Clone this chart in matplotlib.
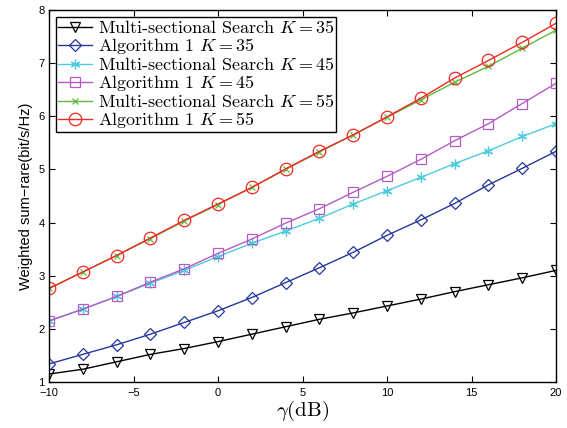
import matplotlib
matplotlib.use("Agg")
import matplotlib.pyplot as plt
import numpy as np

gamma = [-10, -8, -6, -4, -2, 0, 2, 4, 6, 8, 10, 12, 14, 16, 18, 20]
ms_k35 = [1.15, 1.24, 1.38, 1.52, 1.63, 1.76, 1.90, 2.04, 2.18, 2.30, 2.43, 2.56, 2.70, 2.83, 2.96, 3.10]
alg_k35 = [1.34, 1.52, 1.70, 1.90, 2.12, 2.34, 2.59, 2.87, 3.15, 3.44, 3.76, 4.05, 4.36, 4.71, 5.02, 5.34]
ms_k45 = [2.15, 2.37, 2.61, 2.86, 3.10, 3.36, 3.61, 3.84, 4.08, 4.35, 4.60, 4.85, 5.11, 5.35, 5.62, 5.86]
alg_k45 = [2.15, 2.37, 2.61, 2.88, 3.13, 3.42, 3.69, 3.99, 4.26, 4.57, 4.87, 5.19, 5.54, 5.86, 6.24, 6.62]
ms_k55 = [2.76, 3.07, 3.38, 3.70, 4.03, 4.34, 4.66, 5.00, 5.33, 5.65, 5.98, 6.31, 6.64, 6.94, 7.28, 7.62]
alg_k55 = [2.76, 3.07, 3.38, 3.71, 4.04, 4.35, 4.66, 5.01, 5.34, 5.65, 5.99, 6.34, 6.72, 7.05, 7.39, 7.75]

labels = [r"Multi-sectional Search $K=35$", r"Algorithm 1 $K=35$",
          r"Multi-sectional Search $K=45$", r"Algorithm 1 $K=45$",
          r"Multi-sectional Search $K=55$", r"Algorithm 1 $K=55$"]

plt.rcParams['mathtext.fontset'] = 'cm'
plt.rcParams['axes.unicode_minus'] = True

fig = plt.figure(figsize=(5.67, 4.28), dpi=100)
ax = fig.add_axes([49/567, 1-382/428, (556-49)/567, (382-10)/428])

series = [
    (ms_k35, 'black', 'v', 7, 1.0),
    (alg_k35, '#25389a', 'D', 6.5, 1.0),
    (ms_k45, '#4ccbdc', (6, 2, 0), 7, 1.0),
    (alg_k45, '#b45cc4', 's', 7, 1.0),
    (ms_k55, '#5cbc3c', 'x', 4, 1.0),
    (alg_k55, '#ee2a24', 'o', 9, 1.0),
]
for (vals, c, m, ms, lw), lab in zip(series, labels):
    ax.plot(gamma, vals, color=c, marker=m, markersize=ms, markerfacecolor='none',
            markeredgecolor=c, markeredgewidth=0.9, linewidth=lw, label=lab)

ax.set_xlim(-10, 20)
ax.set_ylim(1, 8)
ax.set_xticks([-10, -5, 0, 5, 10, 15, 20])
ax.set_yticks([1, 2, 3, 4, 5, 6, 7, 8])
ax.tick_params(direction='in', top=True, right=True, labelsize=8, length=4, width=0.8)
ax.tick_params(axis='x', pad=4)
ax.tick_params(axis='y', pad=3)
for lab in ax.get_xticklabels() + ax.get_yticklabels():
    lab.set_family('Liberation Sans')
for s in ax.spines.values():
    s.set_linewidth(1.0)

ax.set_xlabel(r"$\gamma(\mathrm{dB})$", fontsize=15, labelpad=1)
ax.set_ylabel("Weighted sum\u2212rare(bit/s/Hz)", fontsize=10.5, family='Liberation Sans', labelpad=4)

leg = ax.legend(loc='upper left', prop={'family': 'cmr10', 'size': 13}, frameon=True,
                fancybox=False, edgecolor='black', framealpha=1, borderpad=0.1,
                labelspacing=0.0, handlelength=1.9, handletextpad=0.3, borderaxespad=0.4)
leg.get_frame().set_linewidth(1.0)

fig.savefig("out.png", dpi=100)
